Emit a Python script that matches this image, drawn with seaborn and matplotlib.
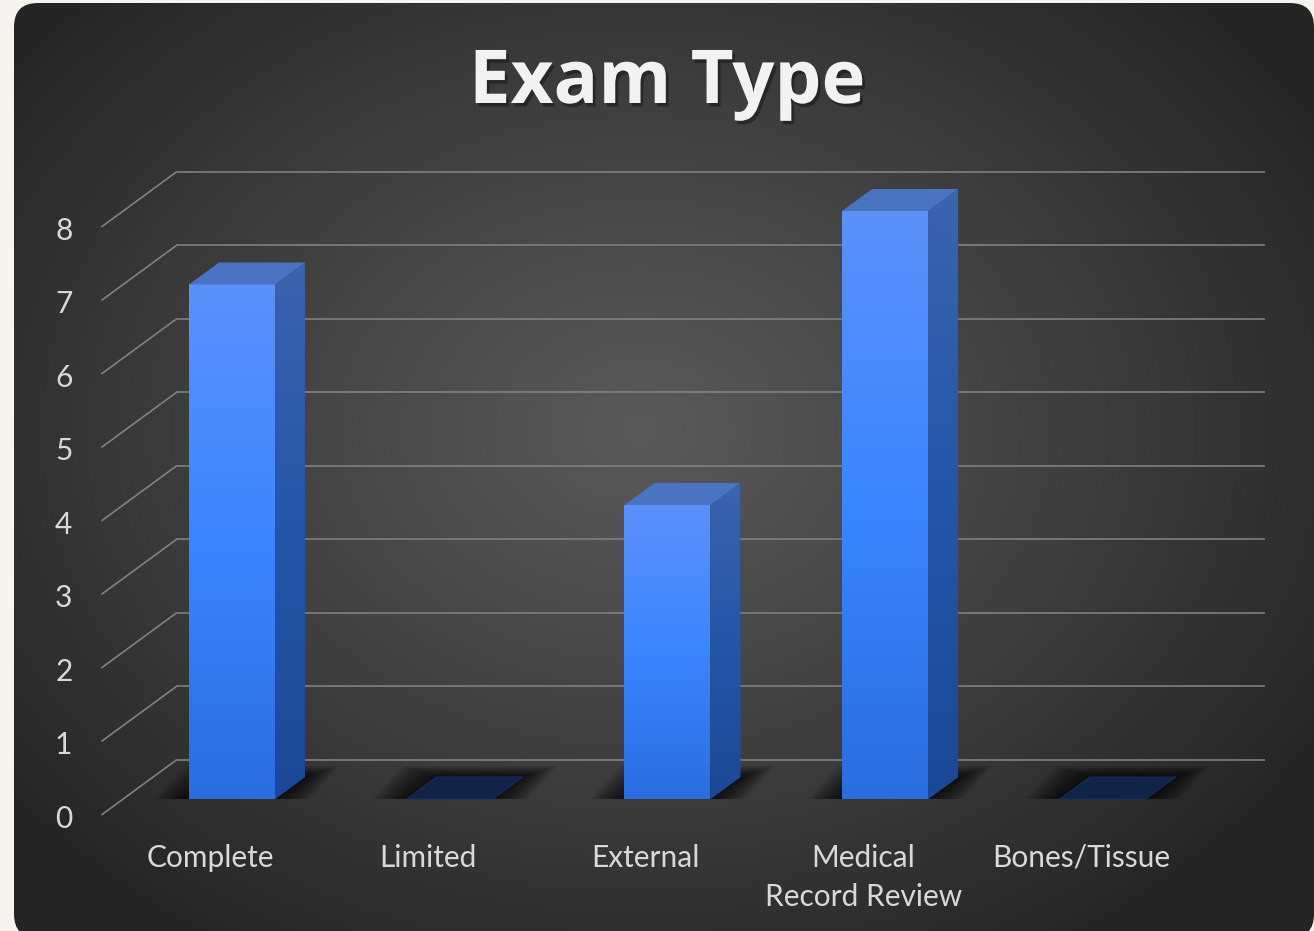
import numpy as np
import matplotlib
matplotlib.use("Agg")
import matplotlib.pyplot as plt
import matplotlib.patheffects as pe
import seaborn as sns
from matplotlib.patches import Polygon, FancyBboxPatch
from matplotlib.colors import LinearSegmentedColormap, to_rgb
from matplotlib.transforms import Affine2D

categories = ["Complete", "Limited", "External", "Medical\nRecord Review", "Bones/Tissue"]
counts = [7, 0, 4, 8, 0]
yticks = list(range(0, 9))
title = "Exam Type"

W, H = 1314, 931
sns.set_theme(style="white")
plt.rcParams["font.family"] = ["Lato", "DejaVu Sans"]

fig = plt.figure(figsize=(W / 100, H / 100), dpi=100)
fig.patch.set_facecolor("#f5f4ef")
ax = fig.add_axes([0, 0, 1, 1])

# bar plane layout in pixels
X0, XSTEP = 232, 217.7
Y0, YSTEP = 799, 73.5
xlim = (-X0 / XSTEP, (W - X0) / XSTEP)
ylim = ((Y0 - H) / YSTEP, Y0 / YSTEP)

# depth: 0 = front edge of the floor, 1 = back wall
DEPTH_PX = (75, 55)
BAR_D0, BAR_D1 = 0.29, 0.69


def off(d):
    return DEPTH_PX[0] * (d - BAR_D0) / XSTEP, DEPTH_PX[1] * (d - BAR_D0) / YSTEP


# the bars (front faces)
sns.barplot(x=categories, y=counts, width=0.395, color="#3a86ff", saturation=1,
            errorbar=None, linewidth=0, ax=ax, zorder=3)
bars = list(ax.patches)
ax.set_axis_off()

# background card with radial gradient
px = Affine2D().scale(1, -1).translate(0, H)
card = FancyBboxPatch((14, 3), 1300, 935, boxstyle="round,pad=0,rounding_size=24",
                      facecolor="none", edgecolor="none")
card.set_transform(px)
ax.add_patch(card)
yy, xx = np.mgrid[0:H, 0:W]
t = np.sqrt(((xx - 640) / 780) ** 2 + ((yy - 430) / 600) ** 2).clip(0, 1)
c_in, c_out = np.array(to_rgb("#595959")), np.array(to_rgb("#262626"))
bg = c_in + (c_out - c_in) * (t[..., None] ** 1.1)
im = ax.imshow(bg, extent=[xlim[0], xlim[1], ylim[0], ylim[1]], origin="upper",
               aspect="auto", zorder=0)
im.set_clip_path(card)

# walls / grid
f0, f1 = off(0), off(1)
left, right = -0.5, len(categories) - 0.5
grid_kw = dict(color="#808080", lw=1.2, zorder=1, solid_capstyle="butt")
for v in yticks:
    ax.plot([left + f1[0], right + f1[0]], [v + f1[1], v + f1[1]], **grid_kw)
    ax.plot([left + f0[0], left + f1[0]], [v + f0[1], v + f1[1]], **grid_kw)
    ax.text(left + f0[0] - 29 / XSTEP, v + f0[1] - 13 / YSTEP, str(v),
            ha="right", va="baseline", fontsize=21.5, color="#d9d9d9")

for i, lab in enumerate(categories):
    for j, line in enumerate(lab.split("\n")):
        ax.text(i + f0[0], f0[1] - (52 + 39 * j) / YSTEP, line, ha="center",
                va="baseline", fontsize=21.5, color="#d9d9d9")

front_cmap = LinearSegmentedColormap.from_list("front", ["#2a6de0", "#3a86ff", "#5c90fa"])
side_cmap = LinearSegmentedColormap.from_list("side", ["#1b4896", "#2456a8", "#3c63ae"])
grad = np.linspace(0, 1, 256).reshape(-1, 1)
ddx, ddy = off(BAR_D1)

for p in bars:
    x0, w, h = p.get_x(), p.get_width(), p.get_height()
    x1 = x0 + w
    # floor shadow
    for k in range(12):
        e = k / 11
        ex, eb = 34 * e / XSTEP, 11 * e / YSTEP
        sh = Polygon([(x0 - ex, 0), (x1 + ex, 0), (x1 + ddx + ex, ddy + eb),
                      (x0 + ddx - ex, ddy + eb)], closed=True, facecolor="black",
                     edgecolor="none", alpha=0.09, zorder=2)
        ax.add_patch(sh)
    if h > 0:
        g = ax.imshow(grad, cmap=front_cmap, origin="lower", extent=[x0, x1, 0, h],
                      aspect="auto", zorder=3.1)
        g.set_clip_path(p)
        side = Polygon([(x1, 0), (x1 + ddx, ddy), (x1 + ddx, h + ddy), (x1, h)],
                       closed=True, facecolor="#2456a8", edgecolor="none", zorder=3)
        ax.add_patch(side)
        gs = ax.imshow(grad, cmap=side_cmap, origin="lower",
                       extent=[x1, x1 + ddx, 0, h + ddy], aspect="auto", zorder=3.1)
        gs.set_clip_path(side)
        top_c, top_e = "#4a73c2", "none"
    else:
        top_c, top_e = "#10244a", "#173266"
    top = Polygon([(x0, h), (x1, h), (x1 + ddx, h + ddy), (x0 + ddx, h + ddy)],
                  closed=True, facecolor=top_c, edgecolor=top_e, lw=0.6, zorder=3.2)
    ax.add_patch(top)

ax.text(667 / W, 1 - 103 / H, title, transform=ax.transAxes, ha="center",
        va="baseline", fontsize=53.5, fontweight="bold", color="#f2f2f2",
        family=["Open Sans", "DejaVu Sans"],
        path_effects=[pe.SimplePatchShadow(offset=(2, -2.5), shadow_rgbFace="black",
                                           alpha=0.35), pe.Normal()])

ax.set_xlim(*xlim)
ax.set_ylim(*ylim)
fig.savefig("out.png", dpi=100, facecolor=fig.get_facecolor())
